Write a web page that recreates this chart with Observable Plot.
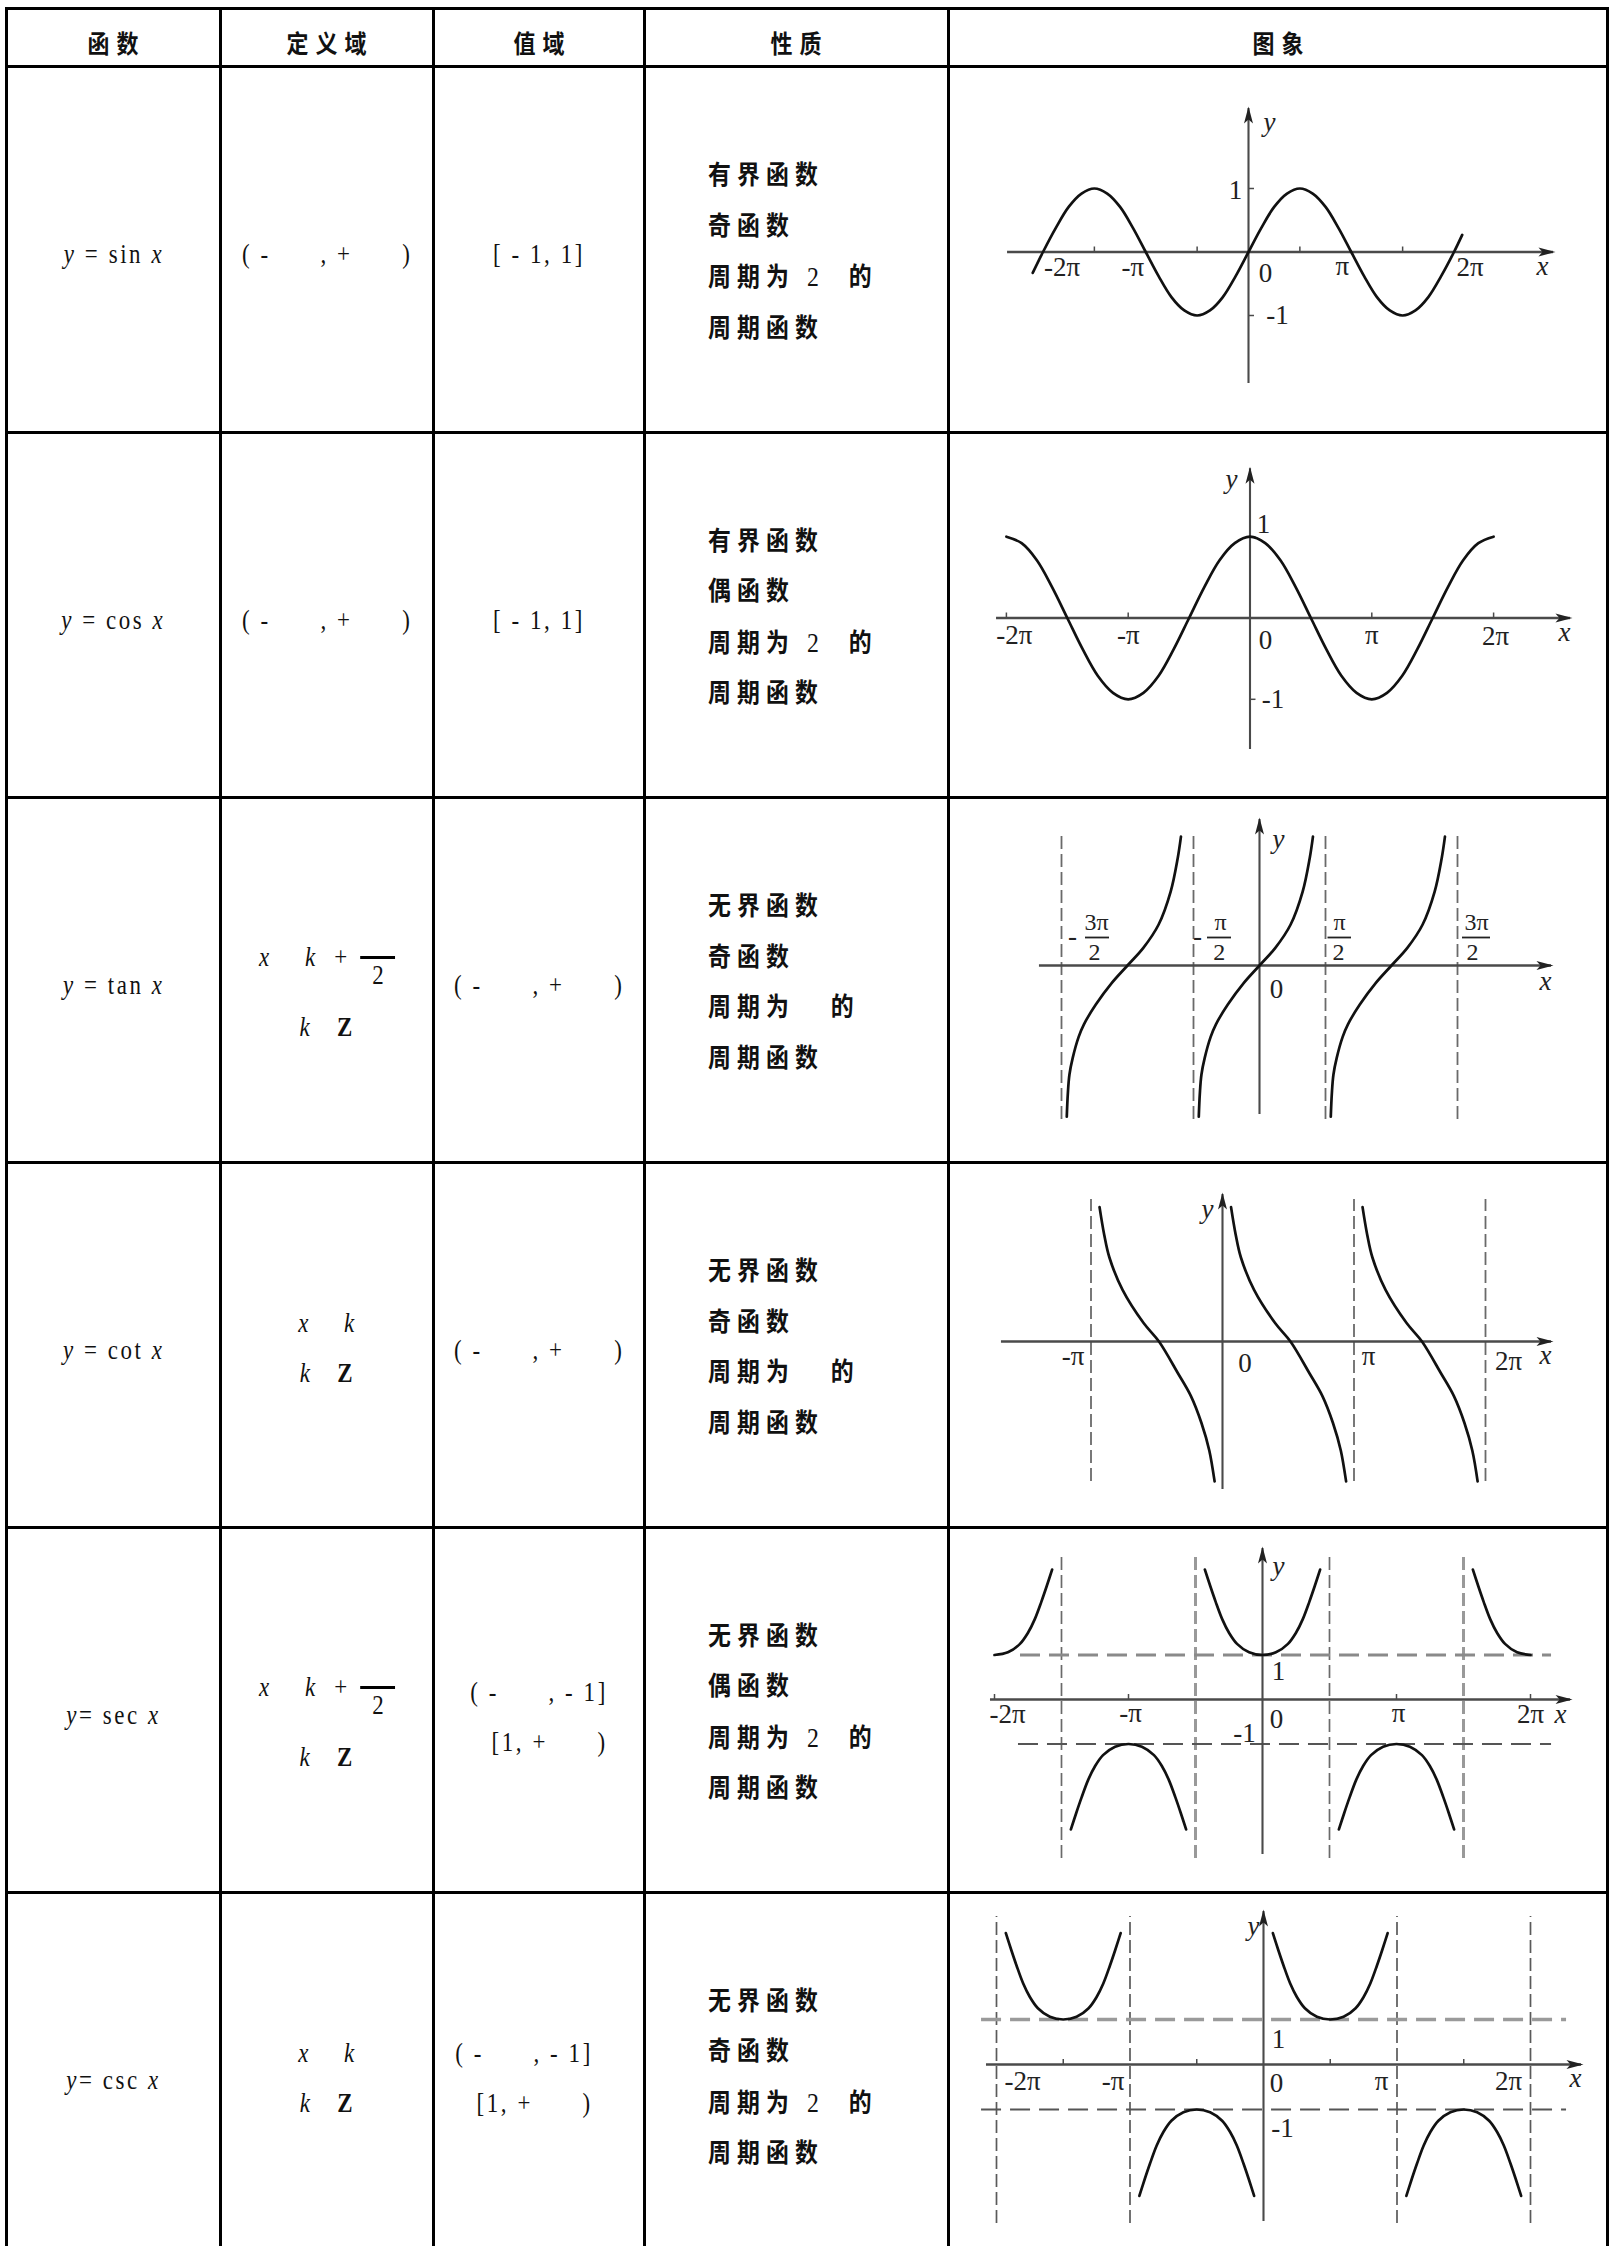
<!DOCTYPE html>
<html><head><meta charset="utf-8">
<script src="https://cdn.jsdelivr.net/npm/d3@7"></script>
<script src="https://cdn.jsdelivr.net/npm/@observablehq/plot@0.6"></script>
<style>
html,body{margin:0;padding:0;overflow:hidden;background:#fff;}
.tbl{position:absolute;left:5px;top:7px;display:grid;
  grid-template-columns:211px 210px 208px 301px 656px;
  grid-template-rows:55px 363px 362px 362px 362px 362px 362px;
  gap:3px;padding:3px;background:#000;}
.cell{background:#fff;display:flex;align-items:center;justify-content:center;overflow:hidden;position:relative;}
.hd{font-family:"Noto Sans CJK SC";font-weight:700;font-size:25px;letter-spacing:8px;padding-left:8px;line-height:30px;position:relative;top:4px;color:#111;transform:scaleX(0.88);}
.m{font-family:"Liberation Serif";font-size:27px;letter-spacing:3px;white-space:pre;color:#111;transform:scaleX(0.85);}
.shift{position:relative;top:5px;}
.two{text-align:center;}
.halfpi{position:relative;top:11px;}
.halfpi>div{line-height:34px;}
.halfpi>.l2{margin-top:36px;}
.kpi{position:relative;top:3px;}
.kpi>div{line-height:50px;}
.range2{text-align:right;}
.range2>div{line-height:50px;}
.frac{display:inline-block;width:41px;border-top:3px solid #000;text-align:center;line-height:26px;padding-top:3px;position:relative;top:18px;margin-left:3px;letter-spacing:0;}
.props{justify-content:flex-start;padding-left:62px;}
.plines{position:relative;top:3px;transform:scaleX(0.88);transform-origin:left center;}
.plines>div{font-family:"Liberation Serif","Noto Sans CJK SC";font-weight:700;font-size:26px;letter-spacing:7px;line-height:50.5px;white-space:pre;color:#111;}
.plines .d{font-weight:400;font-size:27px;}
.plot svg{display:block;}
</style></head>
<body>
<div class="tbl" id="tbl"></div>
<script>
// ---------- table content ----------
const headers = ["函数", "定义域", "值域", "性质", "图象"];
const funcNames = ["sin", "cos", "tan", "cot", "sec", "csc"];
const funcEq = [" = ", " = ", " = ", " = ", "= ", "= "];
const domainKinds = ["all", "all", "halfpi", "kpi", "halfpi", "kpi"];
const rangeKinds = ["unit", "unit", "all", "all", "outside", "outside"];
const boundedness = ["有界函数", "有界函数", "无界函数", "无界函数", "无界函数", "无界函数"];
const parity = ["奇函数", "偶函数", "奇函数", "奇函数", "偶函数", "奇函数"];
const periodCoef = ["2", "2", "", "", "2", "2"];
const periodTail = "周期函数";

// ---------- curve data (x in units of π) ----------
const sinX = [-2.1,-2,-1.875,-1.75,-1.625,-1.5,-1.375,-1.25,-1.125,-1,-0.875,-0.75,-0.625,-0.5,-0.375,-0.25,-0.125,0,0.125,0.25,0.375,0.5,0.625,0.75,0.875,1,1.125,1.25,1.375,1.5,1.625,1.75,1.875,2,2.08];
const sinY = [-0.33,0,0.38,0.71,0.92,1,0.92,0.71,0.38,0,-0.38,-0.71,-0.92,-1,-0.92,-0.71,-0.38,0,0.38,0.71,0.92,1,0.92,0.71,0.38,0,-0.38,-0.71,-0.92,-1,-0.92,-0.71,-0.38,0,0.27];
const cosX = [-2,-1.875,-1.75,-1.625,-1.5,-1.375,-1.25,-1.125,-1,-0.875,-0.75,-0.625,-0.5,-0.375,-0.25,-0.125,0,0.125,0.25,0.375,0.5,0.625,0.75,0.875,1,1.125,1.25,1.375,1.5,1.625,1.75,1.875,2];
const cosY = [1,0.92,0.71,0.38,0,-0.38,-0.71,-0.92,-1,-0.92,-0.71,-0.38,0,0.38,0.71,0.92,1,0.92,0.71,0.38,0,-0.38,-0.71,-0.92,-1,-0.92,-0.71,-0.38,0,0.38,0.71,0.92,1];
const tanBranchDx = [-0.46,-0.452,-0.44,-0.415,-0.37,-0.33,-0.24,-0.12,0,0.12,0.235,0.327,0.38,0.405];
const tanBranchY  = [-3.6,-3.05,-2.6,-2.2,-1.7,-1.4,-0.93,-0.42,0,0.42,0.97,1.76,2.55,3.07];
const tanCenters = [-1, 0, 1];
const tanAsymptotes = [-1.5, -0.5, 0.5, 1.5];
const cotBranchDx = [0.065,0.1,0.14,0.24,0.4,0.517,0.66,0.76,0.84,0.9,0.94];
const cotBranchY  = [3.2,2.55,2.0,1.23,0.44,0,-0.75,-1.3,-1.94,-2.6,-3.33];
const cotStarts = [-1, 0, 1];
const cotAsymptotes = [-1, 1, 2];
const secBranchDx = [-0.43,-0.39,-0.35,-0.3,-0.25,-0.19,-0.1,0,0.1,0.19,0.25,0.3,0.35,0.39,0.43];
const secBranchY  = [2.92,2.55,2.2,1.8,1.5,1.25,1.06,1,1.06,1.25,1.5,1.8,2.2,2.55,2.92];
const secUpperFull = [0], secUpperLeftHalf = [-2], secUpperRightHalf = [2], secLower = [-1, 1];
const secAsymptotes = [-1.5, -0.5, 0.5, 1.5];
const cscUpper = [-1.5, 0.5], cscLower = [-0.5, 1.5];
const cscAsymptotes = [-2, -1, 1, 2];
const boundLines = [1, -1];

// ---------- tick labels ----------
const piLabels5 = ["-2π", "-π", "0", "π", "2π"];
const piAt5 = [-2, -1, 0, 1, 2];
const cotLabels = ["-π", "0", "π", "2π"];
const cotLabelAt = [-1, 0, 1, 2];
const unitLabels = ["1", "-1"];
const unitAt = [1, -1];
const tanFracNum = ["3π", "π", "π", "3π"];
const tanFracSign = ["-", "-", "", ""];
const tanFracDen = "2";
const sinMinorTicks = [-1.5, -0.5, 0.5, 1.5];
const cosMinorTicks = [-2, -1, 1, 2];
const secMinorTicks = [-2, -1, 1, 2];
const cscMinorTicks = [-1.5, -0.5, 0.5, 1.5];

// ---------- build table ----------
const tbl = document.getElementById("tbl");
function cell(html, cls = "") {
  const d = document.createElement("div");
  d.className = "cell " + cls;
  d.innerHTML = html;
  tbl.appendChild(d);
  return d;
}
headers.forEach(h => cell(`<span class="hd">${h}</span>`));

const allReal = `( -      , +      )`;
function domainHTML(kind) {
  if (kind === "all") return `<span class="m shift">${allReal}</span>`;
  if (kind === "halfpi") return `<div class="two halfpi m"><div><i>x</i>    <i>k</i>  + <span class="frac">2</span></div><div class="l2"><i>k</i>   <b>Z</b></div></div>`;
  return `<div class="two kpi m"><div><i>x</i>    <i>k</i></div><div><i>k</i>   <b>Z</b></div></div>`;
}
const range2Shift = {4: [0, 7], 5: [-15, 3]};
function rangeHTML(kind, i) {
  if (kind === "unit") return `<span class="m shift">[ - 1, 1]</span>`;
  if (kind === "all") return `<span class="m shift">${allReal}</span>`;
  const s = range2Shift[i];
  return `<div class="range2 m" style="position:relative;left:${s[0]}px;top:${s[1]}px"><div>( -      , - 1]</div><div>[1, +      )</div></div>`;
}

// ---------- chart helpers ----------
const AX = "#4a4a4a";
const arrowRight = {draw(c) { c.moveTo(2, 0); c.lineTo(-15, -4.5); c.lineTo(-11, 0); c.lineTo(-15, 4.5); c.closePath(); }};
const arrowUp = {draw(c) { c.moveTo(0, -2); c.lineTo(-4.5, 15); c.lineTo(0, 11); c.lineTo(4.5, 15); c.closePath(); }};
const LBL = {fontFamily: "Liberation Serif", fontSize: 27, fill: "#222"};

function branches(centers, dxs, ys, sign, keep = () => true) {
  return centers.flatMap((c, i) => dxs.map((d, j) => ({x: c + d, y: sign * ys[j], b: `${c}:${sign}`, d})).filter(p => keep(p.d)));
}

function label(t, x, y, off, extra = {}) {
  return Plot.text([{x, y, t}], {x: "x", y: "y", text: "t", dx: off[0], dy: off[1], ...LBL, ...extra});
}

function buildChart(spec) {
  const f = spec.frame;
  const marks = [];
  (spec.vDash || []).forEach(v => marks.push(Plot.ruleX(v.at, {y1: v.y[0], y2: v.y[1], stroke: v.stroke, strokeWidth: v.width, strokeDasharray: "13,5"})));
  (spec.hDash || []).forEach(h => marks.push(Plot.ruleY([h.at], {x1: h.x[0], x2: h.x[1], stroke: h.stroke, strokeWidth: h.width, strokeDasharray: "20,9"})));
  marks.push(Plot.ruleY([0], {x1: spec.xAxis[0], x2: spec.xAxis[1], stroke: AX, strokeWidth: 2.3}));
  marks.push(Plot.ruleX([0], {y1: spec.yAxis[0], y2: spec.yAxis[1], stroke: AX, strokeWidth: 2.1}));
  if (spec.xTicks) marks.push(Plot.ruleX(spec.xTicks, {y1: 0, y2: 5 / f.py, stroke: AX, strokeWidth: 1.5}));
  if (spec.yTicks) marks.push(Plot.ruleY(spec.yTicks, {x1: 0, x2: 6 / f.px, stroke: AX, strokeWidth: 1.5}));
  marks.push(Plot.line(spec.curve, {x: "x", y: "y", z: "b", curve: "catmull-rom", stroke: "#111", strokeWidth: 2.7}));
  marks.push(Plot.dot([{x: spec.xAxis[1], y: 0}], {x: "x", y: "y", symbol: arrowRight, r: 4, fill: "#222", stroke: "none"}));
  marks.push(Plot.dot([{x: 0, y: spec.yAxis[1]}], {x: "x", y: "y", symbol: arrowUp, r: 4, fill: "#222", stroke: "none"}));
  (spec.tickText || []).forEach((t, i) => marks.push(label(t, spec.tickAt[i], 0, spec.tickOff[i])));
  (spec.unitText || []).forEach((t, i) => marks.push(label(t, 0, unitAt[i], spec.unitOff[i])));
  marks.push(label("x", spec.xAxis[1], 0, spec.xNameOff, {fontStyle: "italic"}));
  marks.push(label("y", 0, spec.yAxis[1], spec.yNameOff, {fontStyle: "italic"}));
  (spec.extra || []).forEach(m => marks.push(m));
  return Plot.plot({
    width: f.w, height: f.h, margin: 0,
    x: {domain: [-f.ox / f.px, (f.w - f.ox) / f.px], axis: null},
    y: {domain: [(f.oy - f.h) / f.py, f.oy / f.py], axis: null},
    style: {background: "transparent", overflow: "visible"},
    marks
  });
}

// tan fraction labels
function tanFractions(f) {
  const numDx = [35, 27, 14, 19], denDx = [33, 25.7, 13, 15];
  const barDx = [[24, 48], [14, 38], [2.5, 26], [5, 33]], signDx = [11, 4, 0, 0];
  const out = [];
  tanAsymptotes.forEach((a, i) => {
    out.push(label(tanFracNum[i], a, 0, [numDx[i], -43], {fontSize: 24}));
    out.push(label(tanFracDen, a, 0, [denDx[i], -13], {fontSize: 24}));
    out.push(Plot.ruleY([0], {x1: a + barDx[i][0] / f.px, x2: a + barDx[i][1] / f.px, dy: -28, stroke: "#222", strokeWidth: 1.8}));
    if (tanFracSign[i]) out.push(label(tanFracSign[i], a, 0, [signDx[i], -29], {fontSize: 27}));
  });
  return out;
}

const zip = (xs, ys) => xs.map((x, i) => ({x, y: ys[i], b: 0}));

const specs = [
  { // sin
    frame: {w: 656, h: 363, ox: 298, oy: 183.5, px: 102.75, py: 63.5},
    xAxis: [-2.345, 2.968], yAxis: [-2.071, 2.26],
    xTicks: sinMinorTicks, yTicks: boundLines,
    curve: zip(sinX, sinY),
    tickText: piLabels5, tickAt: piAt5, tickOff: [[19, 15.5], [-13, 15.5], [17, 21], [-9, 14], [16, 15.5]],
    unitText: unitLabels, unitOff: [[-13, 2], [29, 0]],
    xNameOff: [-11, 14], yNameOff: [21, 14]
  },
  { // cos
    frame: {w: 656, h: 362, ox: 299.5, oy: 183.5, px: 121.8, py: 81.3},
    xAxis: [-2.081, 2.631], yAxis: [-1.617, 1.836],
    xTicks: cosMinorTicks, yTicks: boundLines,
    curve: zip(cosX, cosY),
    tickText: piLabels5, tickAt: piAt5, tickOff: [[8, 17.5], [0, 17.5], [15.5, 22], [0, 17.5], [2, 18.5]],
    unitText: unitLabels, unitOff: [[13.5, -12], [23, 0]],
    xNameOff: [-6, 14], yNameOff: [-18.5, 11]
  },
  { // tan
    frame: {w: 656, h: 362, ox: 309, oy: 166, px: 132, py: 42},
    xAxis: [-1.667, 2.212], yAxis: [-3.548, 3.476],
    vDash: [{at: tanAsymptotes, y: [-3.667, 3.119], stroke: "#6a6a6a", width: 1.8}],
    curve: branches(tanCenters, tanBranchDx, tanBranchY, 1),
    tickText: ["0"], tickAt: [0], tickOff: [[17, 24]],
    xNameOff: [-6, 16], yNameOff: [19, 20]
  },
  { // cot
    frame: {w: 656, h: 362, ox: 272, oy: 177, px: 131.5, py: 42},
    xAxis: [-1.681, 2.502], yAxis: [-3.524, 3.5],
    vDash: [{at: cotAsymptotes, y: [-3.333, 3.381], stroke: "#6a6a6a", width: 1.8}],
    curve: branches(cotStarts, cotBranchDx, cotBranchY, 1),
    tickText: cotLabels, tickAt: cotLabelAt, tickOff: [[-18, 15], [22.5, 22], [14.5, 15], [23, 20]],
    xNameOff: [-6, 14], yNameOff: [-15, 15]
  },
  { // sec
    frame: {w: 656, h: 362, ox: 312, oy: 170, px: 134, py: 44.5},
    xAxis: [-2.03, 2.299], yAxis: [-3.483, 3.393],
    vDash: [{at: [-1.5, 0.5], y: [-3.573, 3.281], stroke: "#6a6a6a", width: 1.7}, {at: [-0.5, 1.5], y: [-3.573, 3.281], stroke: "#999", width: 3}],
    hDash: [{at: 1, x: [-1.806, 2.157], stroke: "#8a8a8a", width: 3}, {at: -1, x: [-1.821, 2.157], stroke: "#555", width: 1.8}],
    xTicks: secMinorTicks,
    curve: [
      ...branches(secUpperFull, secBranchDx, secBranchY, 1),
      ...branches(secUpperLeftHalf, secBranchDx, secBranchY, 1, d => d >= 0),
      ...branches(secUpperRightHalf, secBranchDx, secBranchY, 1, d => d <= 0),
      ...branches(secLower, secBranchDx, secBranchY, -1)
    ],
    tickText: piLabels5, tickAt: piAt5, tickOff: [[13, 15], [2, 14], [14, 20], [2, 14], [0, 15]],
    unitText: unitLabels, unitOff: [[16, 16.5], [-18, -10.5]],
    xNameOff: [-10, 15], yNameOff: [16, 18]
  },
  { // csc
    frame: {w: 656, h: 362, ox: 313, oy: 170, px: 133.5, py: 45},
    xAxis: [-2.075, 2.382], yAxis: [-3.489, 3.4],
    vDash: [{at: cscAsymptotes, y: [-3.533, 3.289], stroke: "#5a5a5a", width: 1.7}],
    hDash: [{at: 1, x: [-2.112, 2.27], stroke: "#9a9a9a", width: 3.5}, {at: -1, x: [-2.112, 2.27], stroke: "#555", width: 1.8}],
    xTicks: cscMinorTicks,
    curve: [...branches(cscUpper, secBranchDx, secBranchY, 1), ...branches(cscLower, secBranchDx, secBranchY, -1)],
    tickText: piLabels5, tickAt: piAt5, tickOff: [[26, 17], [-17, 17], [13, 19], [-15.5, 17], [-22, 17]],
    unitText: unitLabels, unitOff: [[15, 20], [19, 19]],
    xNameOff: [-6, 14], yNameOff: [-10, 15]
  }
];
specs[2].extra = tanFractions(specs[2].frame);

funcNames.forEach((name, i) => {
  cell(`<span class="m shift"><i>y</i>${funcEq[i]}${name} <i>x</i></span>`);
  cell(domainHTML(domainKinds[i]));
  cell(rangeHTML(rangeKinds[i], i));
  const coef = periodCoef[i] ? ` <span class="d">${periodCoef[i]}</span>  ` : "   ";
  cell(`<div class="plines"><div>${boundedness[i]}</div><div>${parity[i]}</div><div>周期为${coef}的</div><div>${periodTail}</div></div>`, "props");
  const pc = cell("", "plot");
  pc.appendChild(buildChart(specs[i]));
});
</script>
</body></html>
